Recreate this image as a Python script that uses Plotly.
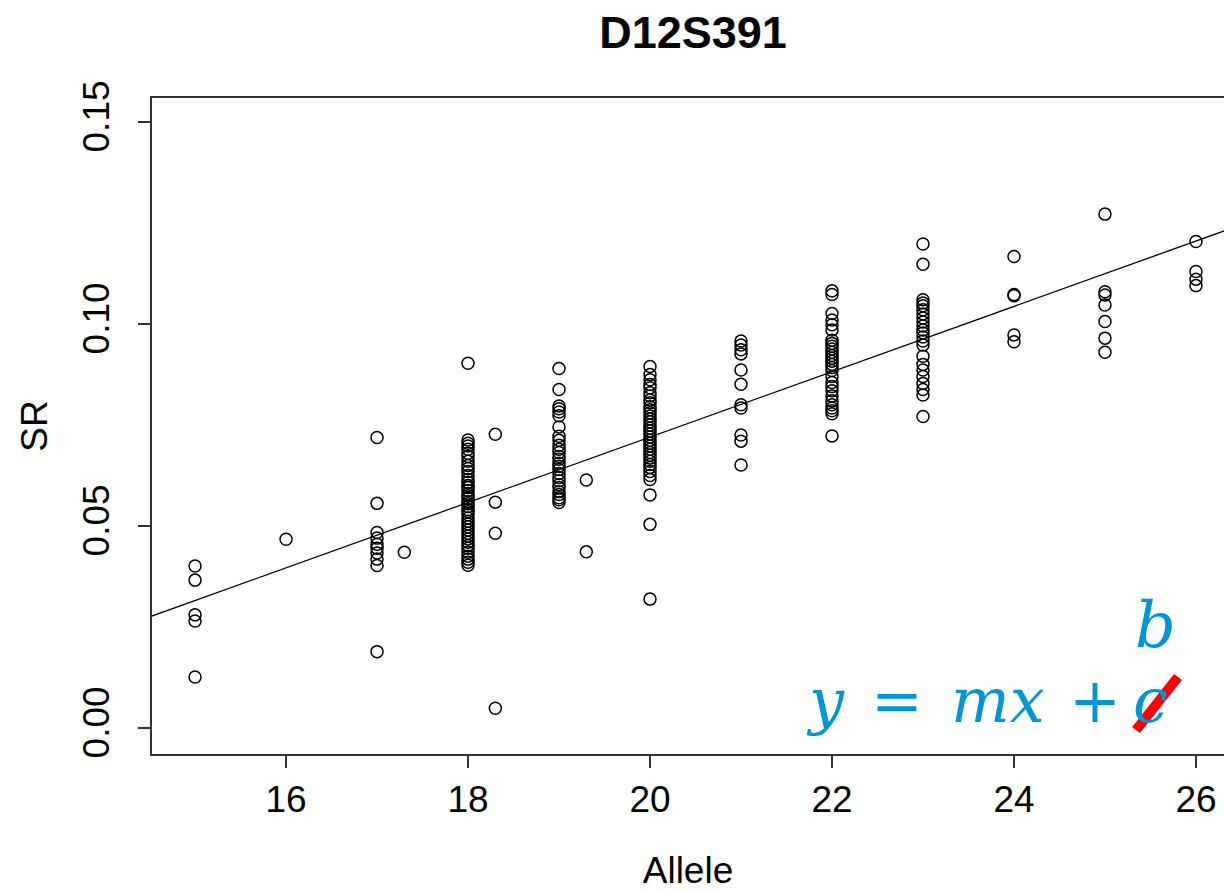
import plotly.graph_objects as go

# ---- data ----
sr_15 = [0.0401, 0.0366, 0.0280, 0.0265, 0.0126]
sr_16 = [0.0467]
sr_17 = [0.0719, 0.0556, 0.0484, 0.0470, 0.0455, 0.0445, 0.0433, 0.0418, 0.0402, 0.0189]
sr_17_3 = [0.0435]
sr_18 = [0.0903, 0.0713, 0.0705, 0.0698, 0.0690, 0.0680, 0.0672, 0.0660, 0.0650, 0.0642,
         0.0635, 0.0625, 0.0615, 0.0608, 0.0600, 0.0595, 0.0588, 0.0580, 0.0575, 0.0568,
         0.0560, 0.0555, 0.0548, 0.0540, 0.0535, 0.0528, 0.0520, 0.0512, 0.0505, 0.0498,
         0.0490, 0.0482, 0.0475, 0.0468, 0.0460, 0.0452, 0.0445, 0.0435, 0.0425, 0.0418,
         0.0410, 0.0403]
sr_18_3 = [0.0727, 0.0559, 0.0482, 0.0049]
sr_19 = [0.0890, 0.0838, 0.0797, 0.0790, 0.0782, 0.0773, 0.0745, 0.0722, 0.0712, 0.0700,
         0.0690, 0.0682, 0.0672, 0.0665, 0.0655, 0.0648, 0.0640, 0.0630, 0.0620, 0.0612,
         0.0602, 0.0595, 0.0585, 0.0578, 0.0570, 0.0565, 0.0558]
sr_19_3 = [0.0614, 0.0436]
sr_20 = [0.0895, 0.0875, 0.0862, 0.0850, 0.0842, 0.0830, 0.0822, 0.0812, 0.0805, 0.0795,
         0.0788, 0.0780, 0.0772, 0.0765, 0.0758, 0.0750, 0.0742, 0.0735, 0.0728, 0.0720,
         0.0712, 0.0705, 0.0698, 0.0690, 0.0682, 0.0675, 0.0668, 0.0660, 0.0652, 0.0645,
         0.0635, 0.0625, 0.0615, 0.0577, 0.0504, 0.0319]
sr_21 = [0.0958, 0.0948, 0.0936, 0.0926, 0.0886, 0.0851, 0.0800, 0.0792, 0.0725, 0.0710, 0.0651]
sr_22 = [0.1082, 0.1073, 0.1026, 0.1010, 0.0998, 0.0985, 0.0960, 0.0952, 0.0945, 0.0938,
         0.0930, 0.0922, 0.0915, 0.0908, 0.0900, 0.0892, 0.0885, 0.0870, 0.0855, 0.0845,
         0.0835, 0.0822, 0.0810, 0.0800, 0.0792, 0.0785, 0.0778, 0.0723]
sr_23 = [0.1198, 0.1148, 0.1060, 0.1052, 0.1045, 0.1035, 0.1025, 0.1015, 0.1005, 0.0995,
         0.0985, 0.0978, 0.0968, 0.0958, 0.0948, 0.0920, 0.0900, 0.0886, 0.0870, 0.0853,
         0.0838, 0.0824, 0.0771]
sr_24 = [0.1167, 0.1073, 0.1070, 0.0973, 0.0956]
sr_25 = [0.1272, 0.1080, 0.1072, 0.1047, 0.1006, 0.0965, 0.0930]
sr_26 = [0.1204, 0.1130, 0.1111, 0.1095]

groups = [(15, sr_15), (16, sr_16), (17, sr_17), (17.3, sr_17_3), (18, sr_18),
          (18.3, sr_18_3), (19, sr_19), (19.3, sr_19_3), (20, sr_20), (21, sr_21),
          (22, sr_22), (23, sr_23), (24, sr_24), (25, sr_25), (26, sr_26)]

# fitted line y = m*x + b
slope = 0.00809
intercept = -0.0898
line_x = [14.0, 27.0]

x_ticks = [16, 18, 20, 22, 24, 26]
y_ticks = [0.00, 0.05, 0.10, 0.15]

allele = []
sr = []
for a, vals in groups:
    allele += [a] * len(vals)
    sr += vals

line_y = [slope * xv + intercept for xv in line_x]

W, H = 1224, 891
L, R, T, B = 152, 0, 98, 137
pw, ph = W - L - R, H - T - B


def px(xp):
    return (xp - L) / pw


def py(yp):
    return (H - B - yp) / ph


fig = go.Figure()
fig.add_trace(go.Scatter(
    x=allele, y=sr, mode="markers",
    marker=dict(symbol="circle-open", size=12, color="black",
                line=dict(color="black", width=1.5)),
    showlegend=False, hoverinfo="x+y"))
fig.add_trace(go.Scatter(
    x=line_x, y=line_y, mode="lines",
    line=dict(color="black", width=1.3), showlegend=False, hoverinfo="skip"))

FONT = "Liberation Sans, Arial, sans-serif"
SERIF = "DejaVu Serif, serif"
BLUE = "rgb(0,150,214)"

fig.update_layout(
    width=W, height=H,
    margin=dict(l=L, r=R, t=T, b=B),
    paper_bgcolor="white", plot_bgcolor="white",
    font=dict(family=FONT, color="black", size=36),
    title=dict(text="<b>D12S391</b>", font=dict(size=45, family=FONT, color="black"),
               x=693 / W, xref="container", xanchor="center",
               y=1 - 32 / H, yref="container", yanchor="middle"),
    xaxis=dict(range=[14.527, 26.308], tickvals=x_ticks, ticktext=[str(v) for v in x_ticks],
               showgrid=False, zeroline=False, showline=True, mirror=True,
               linecolor="#333333", linewidth=1.5, ticks="outside", ticklen=12,
               tickwidth=1.5, tickcolor="#333333", tickfont=dict(size=37),
               title=dict(text="Allele", font=dict(size=37), standoff=38)),
    yaxis=dict(range=[-0.00644, 0.15594], tickvals=y_ticks, tickformat=".2f",
               showgrid=False, zeroline=False, showline=True, mirror=False,
               linecolor="#333333", linewidth=1.5, ticks="outside", ticklen=12,
               tickwidth=1.5, tickcolor="#333333", tickfont=dict(size=37),
               tickangle=-90, ticklabelstandoff=14,
               title=dict(text="SR", font=dict(size=37), standoff=18)),
)

# equation annotation
tokens = [("<i>y</i>", 825), ("=", 897), ("<i>mx</i>", 998), ("+", 1095), ("<i>c</i>", 1150)]
for t, xc in tokens:
    fig.add_annotation(text=t, x=px(xc), y=py(700), xref="paper", yref="paper",
                       xanchor="center", yanchor="middle", showarrow=False,
                       font=dict(family=SERIF, size=62, color=BLUE))
fig.add_annotation(text="<i>b</i>", x=px(1155), y=py(625), xref="paper", yref="paper",
                   xanchor="center", yanchor="middle", showarrow=False,
                   font=dict(family=SERIF, size=64, color=BLUE))
fig.add_shape(type="line", xref="paper", yref="paper",
              x0=px(1136), y0=py(730), x1=px(1178), y1=py(677),
              line=dict(color="red", width=10))

fig.write_html("out.html")
